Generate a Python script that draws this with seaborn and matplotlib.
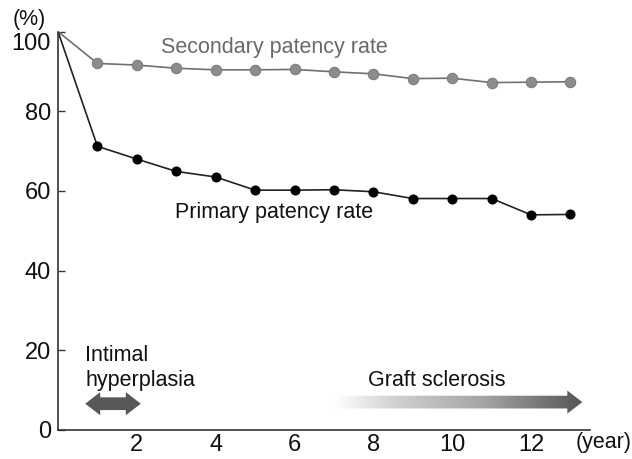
import numpy as np
import pandas as pd
import matplotlib
matplotlib.use("Agg")
import matplotlib.pyplot as plt
import matplotlib.transforms as mtransforms
import seaborn as sns
from matplotlib.patches import Polygon
from matplotlib.colors import LinearSegmentedColormap

years = [0, 1, 2, 3, 4, 5, 6, 7, 8, 9, 10, 11, 12, 13]
secondary = [100, 92.0, 91.6, 90.8, 90.4, 90.4, 90.5, 89.9, 89.4, 88.2, 88.3, 87.2, 87.3, 87.4]
primary = [100, 71.2, 68.0, 64.9, 63.5, 60.2, 60.2, 60.3, 59.8, 58.1, 58.1, 58.1, 54.0, 54.1]
xticks = [2, 4, 6, 8, 10, 12]
yticks = [0, 20, 40, 60, 80, 100]

sns.set_style("white")
plt.rcParams['font.family'] = ['Liberation Sans', 'DejaVu Sans']

fig = plt.figure(figsize=(6.32, 4.59), dpi=100)
ax = fig.add_axes([0.0918, 0.0632, 0.842, 0.868])

df = pd.DataFrame({"year": years, "secondary": secondary, "primary": primary})
sns.lineplot(data=df, x="year", y="secondary", ax=ax, color="#707070", lw=1.2,
             marker="o", markersize=7.5, markerfacecolor="#8c8c8c",
             markeredgecolor="#7a7a7a", markevery=list(range(1, len(years))))
sns.lineplot(data=df, x="year", y="primary", ax=ax, color="#222222", lw=1.2,
             marker="o", markersize=6.5, markerfacecolor="#000000",
             markeredgecolor="#000000", markevery=list(range(1, len(years))))

ax.set_xlim(0, 13.5)
ax.set_ylim(0, 100)
ax.set_xticks(xticks)
ax.set_yticks(yticks)
ax.set_xlabel("")
ax.set_ylabel("")
for s in ["top", "right"]:
    ax.spines[s].set_visible(False)
for s in ["left", "bottom"]:
    ax.spines[s].set_color("#333333")
    ax.spines[s].set_linewidth(1.2)
ax.tick_params(axis="y", direction="in", length=5, width=1, colors="#333333",
               labelsize=17, labelcolor="#111111", left=True, pad=5)
ax.tick_params(axis="x", length=0, labelsize=17, labelcolor="#111111", pad=3)

# the "100" label sits a little below its tick in the reference
fig.canvas.draw()
for lab in ax.get_yticklabels():
    if lab.get_text() == "100":
        lab.set_transform(lab.get_transform() +
                          mtransforms.ScaledTranslation(0, -10 / 100, fig.dpi_scale_trans))

ax.text(5.48, 96.1, "Secondary patency rate", color="#6a6a6a", fontsize=15.5,
        ha="center", va="center")
ax.text(5.47, 54.5, "Primary patency rate", color="#111111", fontsize=15.5,
        ha="center", va="center")
ax.text(0.69, 18.8, "Intimal", color="#111111", fontsize=15.5, ha="left", va="center")
ax.text(0.69, 12.3, "hyperplasia", color="#111111", fontsize=15.5, ha="left", va="center")
ax.text(7.87, 12.5, "Graft sclerosis", color="#111111", fontsize=15.5, ha="left", va="center")

fig.text(0.046, 0.958, "(%)", fontsize=15.5, ha="center", va="center", color="#111111")
fig.text(0.955, 0.035, "(year)", fontsize=15.5, ha="center", va="center", color="#111111")

# Intimal hyperplasia double arrow
x0, x1, yc, h, H, L = 0.69, 2.1, 6.6, 1.6, 2.9, 0.38
verts = [(x0, yc), (x0 + L, yc + H), (x0 + L, yc + h), (x1 - L, yc + h),
         (x1 - L, yc + H), (x1, yc), (x1 - L, yc - H), (x1 - L, yc - h),
         (x0 + L, yc - h), (x0 + L, yc - H)]
ax.add_patch(Polygon(verts, closed=True, facecolor="#585858", edgecolor="none", zorder=3))

# Graft sclerosis gradient arrow
xs, xe, yc2 = 7.0, 13.3, 7.0
verts2 = [(xs, yc2 + h), (xe - L, yc2 + h), (xe - L, yc2 + H), (xe, yc2),
          (xe - L, yc2 - H), (xe - L, yc2 - h), (xs, yc2 - h)]
poly = Polygon(verts2, closed=True, facecolor="none", edgecolor="none")
ax.add_patch(poly)
cmap = LinearSegmentedColormap.from_list("g", [(0, "#ffffff"), (0.25, "#cfcfcf"),
                                               (0.6, "#a5a5a5"), (1, "#555555")])
grad = np.linspace(0, 1, 256).reshape(1, -1)
im = ax.imshow(grad, cmap=cmap, extent=[xs, xe, yc2 - H, yc2 + H], aspect="auto",
               zorder=3, interpolation="bilinear")
im.set_clip_path(poly)
ax.set_xlim(0, 13.5)
ax.set_ylim(0, 100)

fig.savefig("out.png", dpi=100)
